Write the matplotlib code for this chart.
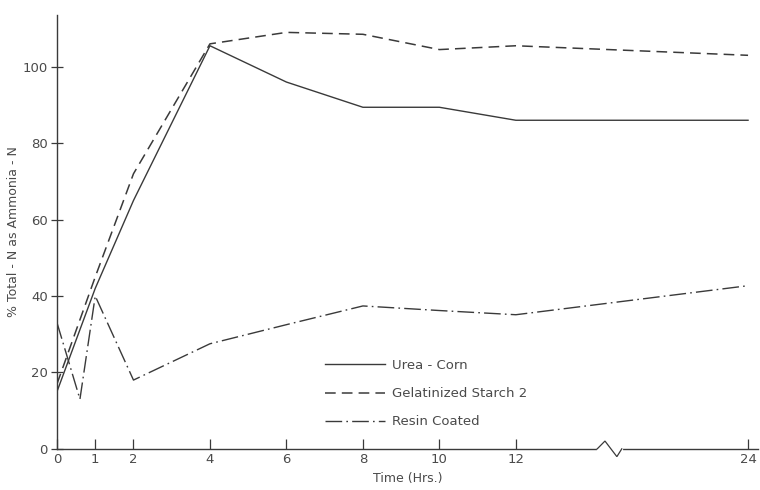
import numpy as np
import matplotlib
matplotlib.use('Agg')
import matplotlib.pyplot as plt

# hours sampled
urea_t = [0, 1, 2, 4, 6, 8, 10, 12, 24]
urea_n = [15, 42, 65, 105.5, 96, 89.4, 89.4, 86, 86]

starch_t = [0, 1, 2, 4, 6, 8, 10, 12, 24]
starch_n = [17, 45, 72, 106, 109, 108.5, 104.5, 105.5, 103]

resin_t = [0, 0.6, 1, 2, 4, 6, 8, 10, 12, 24]
resin_n = [33, 13, 40, 18, 27.5, 32.5, 37.4, 36.2, 35.1, 42.7]

x_ticks = [0, 1, 2, 4, 6, 8, 10, 12, 24]
y_ticks = [0, 20, 40, 60, 80, 100]

# axis is broken after 12 h: the 12-24 h stretch is squeezed
SQUEEZE = 0.506


def fwd(t):
    t = np.asarray(t, dtype=float)
    return np.where(t <= 12, t, 12 + (t - 12) * SQUEEZE)


def inv(x):
    x = np.asarray(x, dtype=float)
    return np.where(x <= 12, x, 12 + (x - 12) / SQUEEZE)


ink = '#3a3a3a'
txt = '#4a4a4a'
plt.rcParams['font.family'] = ['DejaVu Sans']

fig = plt.figure(figsize=(7.6, 4.9), dpi=100)
ax = fig.add_axes([0.075, 0.084, 0.922, 0.885])
ax.set_xscale('function', functions=(fwd, inv))

ax.plot(urea_t, urea_n, color=ink, lw=1.0, label='Urea - Corn')
ax.plot(starch_t, starch_n, color=ink, lw=1.1, ls=(0, (7, 4)),
        label='Gelatinized Starch 2')
ax.plot(resin_t, resin_n, color=ink, lw=1.0, ls=(0, (12, 3, 1.2, 3)),
        label='Resin Coated')

ax.set_xlim(0, 24.5)
ax.set_ylim(0, 113.5)
ax.set_xticks(x_ticks)
ax.set_xticklabels([str(v) for v in x_ticks])
ax.set_yticks(y_ticks)
ax.set_yticklabels([str(v) for v in y_ticks])

for s in ['top', 'right']:
    ax.spines[s].set_visible(False)
for s in ['left', 'bottom']:
    ax.spines[s].set_color(ink)
    ax.spines[s].set_linewidth(1.0)

ax.tick_params(axis='x', direction='in', length=7, width=0.9, colors=ink,
               labelcolor=txt, labelsize=9.5, pad=3)
ax.tick_params(axis='y', direction='inout', length=9, width=0.9, colors=ink,
               labelcolor=txt, labelsize=9.5, pad=2)

ax.set_xlabel('Time (Hrs.)', color=txt, fontsize=9, labelpad=4)
ax.set_ylabel('% Total - N as Ammonia - N', color=txt, fontsize=9, labelpad=2)

# axis break zigzag
ax.plot([0.773, 0.805], [0, 0], transform=ax.transAxes, color='white',
        lw=3, clip_on=False, zorder=5)
ax.plot([0.771, 0.782, 0.799, 0.806], [0, 0.018, -0.018, 0],
        transform=ax.transAxes, color=ink, lw=0.9, clip_on=False, zorder=6,
        solid_joinstyle='miter')

leg = ax.legend(loc='lower left', bbox_to_anchor=(0.365, 0.02), frameon=False,
                handlelength=4.6, handletextpad=0.5, labelspacing=1.15,
                fontsize=9.5)
for t in leg.get_texts():
    t.set_color(txt)

fig.savefig('out.png', dpi=100, facecolor='white')
